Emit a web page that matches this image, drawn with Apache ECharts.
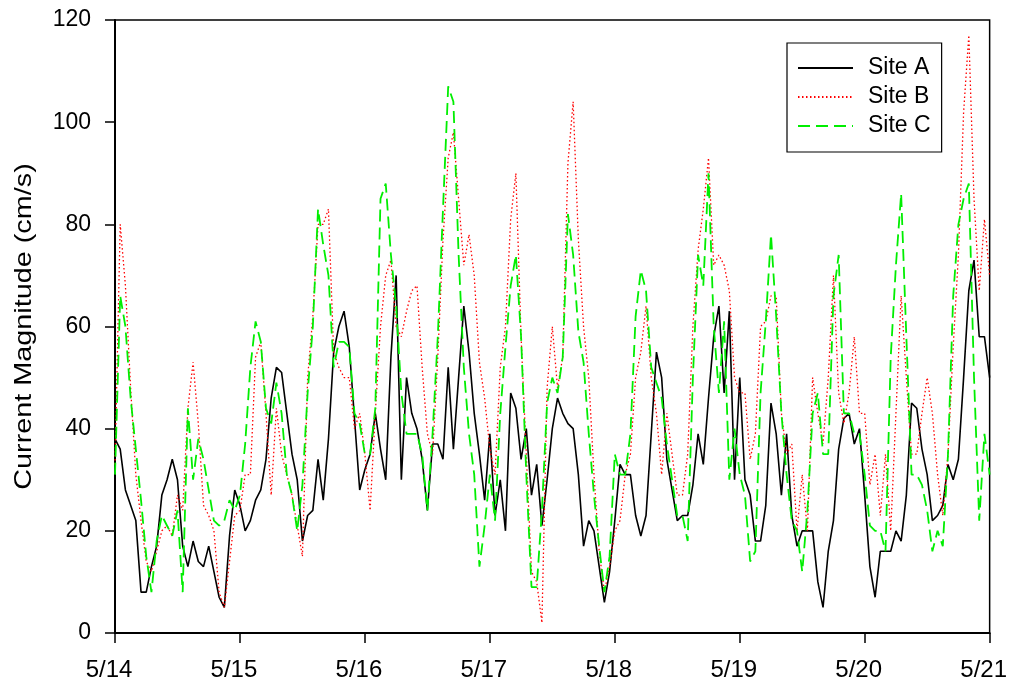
<!DOCTYPE html>
<html>
<head>
<meta charset="utf-8">
<title>Current Magnitude</title>
<script src="https://cdn.jsdelivr.net/npm/echarts@6/dist/echarts.min.js"></script>
<style>
  html, body { margin: 0; padding: 0; background: #ffffff; }
  #chart { width: 1010px; height: 687px; }
</style>
</head>
<body>
<div id="chart"></div>
<script>
// Hourly current magnitude (cm/s), starting 5/14 00:00, 169 samples
const dayLabels = ['5/14', '5/15', '5/16', '5/17', '5/18', '5/19', '5/20', '5/21'];
const yTitle = 'Current Magnitude (cm/s)';

const siteA = [
  38,36,28,25,22,8,8,13,17,27,30,34,30,17,13,18,14,13,17,12,7,5,19,28,
  25,20,22,26,28,34,46,52,51,43,35,30,18,23,24,34,26,38,55,60,63,56,42,28,
  32,35,43,36,30,54,70,30,50,43,40,34,24,37,37,34,52,36,50,64,55,43,35,26,
  39,23,30,20,47,44,34,40,27,33,21,30,40,46,43,41,40,31,17,22,20,13,6,12,
  22,33,31,31,23,19,23,39,55,50,34,28,22,23,23,29,39,33,46,58,64,47,63,30,
  50,30,27,18,18,25,45,39,27,39,23,17,20,20,20,10,5,16,22,36,42,43,37,40,
  27,13,7,16,16,16,20,18,27,45,44,36,31,22,23,25,33,30,34,50,67,73,58,58,
  50
];

const siteB = [
  33,80,68,48,31,22,14,12,16,20,21,19,27,24,44,53,41,25,23,20,8,5,14,23,
  24,31,31,54,57,43,27,44,35,31,27,21,15,50,62,80,80,83,55,52,50,50,40,43,
  35,24,43,60,70,73,60,58,63,67,68,52,39,35,54,77,93,98,85,72,78,70,53,46,
  36,31,52,60,81,90,58,35,12,10,2,48,60,48,54,92,104,77,60,50,31,16,8,13,
  20,22,31,35,50,55,64,50,43,31,43,35,27,27,35,60,75,83,93,72,74,72,67,50,
  47,47,34,39,60,61,66,66,43,35,37,20,31,20,50,43,37,50,70,47,41,47,58,43,
  43,29,35,23,35,20,43,66,50,35,35,43,50,43,31,23,35,56,74,102,117,85,67,81,
  70
];

const siteC = [
  31,66,60,46,36,26,15,8,18,23,21,19,24,8,44,30,38,34,28,22,21,22,26,24,
  27,37,52,61,57,44,41,49,43,31,27,20,29,47,60,83,76,70,52,57,57,56,43,41,
  35,35,44,85,88,74,64,47,39,39,39,35,24,39,58,83,107,104,74,52,39,31,13,21,
  31,22,43,56,68,74,58,31,9,9,24,45,50,47,54,82,74,59,53,39,27,17,8,15,
  35,31,31,39,62,71,67,52,49,46,37,30,23,23,18,50,74,68,90,60,47,61,30,40,
  31,27,14,16,47,61,78,62,43,31,22,20,12,24,43,47,35,35,66,74,43,43,39,39,
  31,21,20,20,16,54,72,86,58,31,31,29,24,16,20,17,35,66,80,85,88,50,22,39,
  31
];

const toPairs = arr => arr.map((v, h) => [h, v]);
const FONT = '"Liberation Sans", Arial, Helvetica, sans-serif';

const GRID = { left: 115, right: 20, top: 20, bottom: 54 };
const chartEl = document.getElementById('chart');
const chart = echarts.init(chartEl, null, { renderer: 'canvas' });
const plotMidY = GRID.top + (chartEl.clientHeight - GRID.top - GRID.bottom) / 2;

chart.setOption({
  backgroundColor: '#ffffff',
  animation: false,
  textStyle: { fontFamily: FONT, color: '#000' },
  grid: Object.assign({
    show: true, borderColor: '#000', borderWidth: 1.5, backgroundColor: 'transparent'
  }, GRID),
  // vertical axis title, drawn a little wide along its length
  graphic: [{
    type: 'text',
    x: 24,
    y: plotMidY,
    rotation: Math.PI / 2,
    scaleX: 1.2,
    style: {
      text: yTitle,
      fontFamily: FONT,
      fontSize: 24,
      fill: '#000',
      align: 'center',
      verticalAlign: 'middle'
    }
  }],
  legend: {
    orient: 'vertical',
    left: 787, top: 43,
    padding: [13, 11, 14, 10],
    itemGap: 5,
    itemWidth: 55,
    itemHeight: 14,
    itemStyle: { opacity: 0 },
    borderColor: '#000',
    borderWidth: 1.2,
    backgroundColor: '#fff',
    textStyle: { fontFamily: FONT, fontSize: 23, lineHeight: 24, color: '#000', padding: [0, 0, 0, 10] },
    data: ['Site A', 'Site B', 'Site C']
  },
  xAxis: {
    type: 'value',
    min: 0, max: 168, interval: 24,
    axisLine: { show: true, lineStyle: { color: '#000', width: 2 } },
    axisTick: { show: true, inside: false, length: 10, lineStyle: { color: '#000', width: 1.5 } },
    axisLabel: {
      fontFamily: FONT, fontSize: 24, color: '#000', margin: 25,
      padding: [0, 12, 0, 0],
      formatter: v => dayLabels[Math.round(v / 24)]
    },
    splitLine: { show: false }
  },
  yAxis: {
    type: 'value',
    min: 0, max: 120, interval: 20,
    axisLine: { show: true, lineStyle: { color: '#000', width: 2 } },
    axisTick: { show: true, inside: false, length: 10, lineStyle: { color: '#000', width: 1.5 } },
    axisLabel: { fontFamily: FONT, fontSize: 23, color: '#000', margin: 24 },
    splitLine: { show: false }
  },
  series: [
    {
      name: 'Site A', type: 'line', data: toPairs(siteA),
      symbol: 'none', smooth: false,
      lineStyle: { color: '#000000', width: 1.6, type: 'solid' },
      itemStyle: { color: '#000000' }
    },
    {
      name: 'Site B', type: 'line', data: toPairs(siteB),
      symbol: 'none', smooth: false,
      lineStyle: { color: '#ff0000', width: 1.3, type: [1.5, 2.5] },
      itemStyle: { color: '#ff0000' }
    },
    {
      name: 'Site C', type: 'line', data: toPairs(siteC),
      symbol: 'none', smooth: false,
      lineStyle: { color: '#00ee00', width: 1.8, type: [12, 6] },
      itemStyle: { color: '#00ee00' }
    }
  ]
});
</script>
</body>
</html>
